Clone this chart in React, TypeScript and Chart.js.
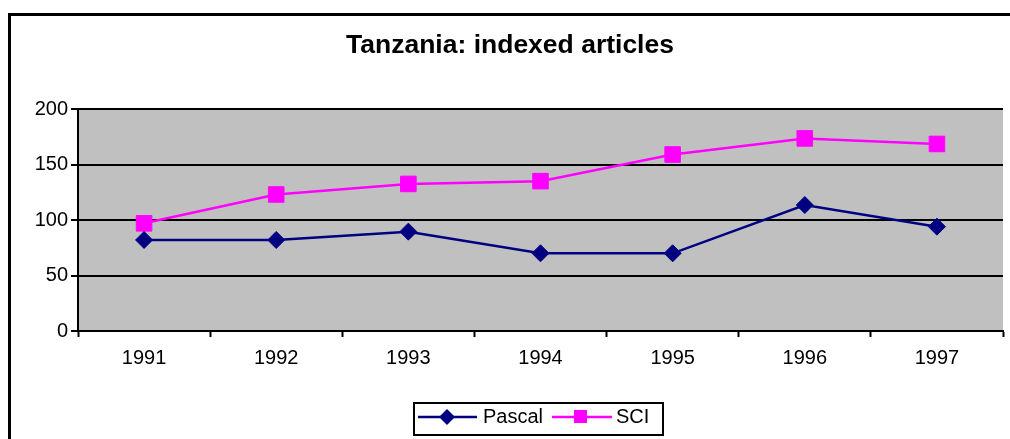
import React, { useEffect, useRef } from 'react';
import { Chart, registerables } from 'chart.js';

Chart.register(...registerables);

const years = ['1991', '1992', '1993', '1994', '1995', '1996', '1997'];
const pascal = [82, 82, 89.5, 70, 70, 113.5, 94];
const sci = [97, 123, 132.5, 135, 159, 173.5, 168.5];
const yMin = 0;
const yMax = 200;
const yStep = 50;
const titleText = 'Tanzania: indexed articles';
const seriesNames = ['Pascal', 'SCI'];

const FONT = '"Liberation Sans", Arial, Helvetica, sans-serif';
const NAVY = '#000080';
const MAGENTA = '#FF00FF';

const decorPlugin = {
  id: 'decor',
  beforeDraw(chart: any) {
    const { ctx, chartArea } = chart;
    ctx.save();
    ctx.fillStyle = '#ffffff';
    ctx.fillRect(0, 0, chart.width, chart.height);
    ctx.strokeStyle = '#000';
    ctx.lineWidth = 3;
    ctx.strokeRect(9.5, 14.5, 1100, 600);
    ctx.fillStyle = '#C0C0C0';
    ctx.fillRect(chartArea.left, chartArea.top, chartArea.right - chartArea.left, chartArea.bottom - chartArea.top);
    ctx.fillStyle = '#000';
    ctx.font = `bold 26.5px ${FONT}`;
    ctx.textAlign = 'center';
    ctx.textBaseline = 'alphabetic';
    ctx.fillText(titleText, 510, 53);
    ctx.restore();
  },
  afterDraw(chart: any) {
    const { ctx } = chart;
    ctx.save();
    ctx.strokeStyle = '#000';
    ctx.lineWidth = 2;
    ctx.strokeRect(414, 403, 249, 32);
    const cy = 417;
    ctx.font = `20px ${FONT}`;
    ctx.textBaseline = 'middle';
    ctx.textAlign = 'left';
    ctx.strokeStyle = NAVY;
    ctx.lineWidth = 2.5;
    ctx.beginPath();
    ctx.moveTo(418, cy);
    ctx.lineTo(477, cy);
    ctx.stroke();
    ctx.fillStyle = NAVY;
    ctx.beginPath();
    ctx.moveTo(447, cy - 8);
    ctx.lineTo(455, cy);
    ctx.lineTo(447, cy + 8);
    ctx.lineTo(439, cy);
    ctx.closePath();
    ctx.fill();
    ctx.fillStyle = '#000';
    ctx.fillText(seriesNames[0], 483, cy);
    ctx.strokeStyle = MAGENTA;
    ctx.beginPath();
    ctx.moveTo(552, cy);
    ctx.lineTo(612, cy);
    ctx.stroke();
    ctx.fillStyle = MAGENTA;
    ctx.fillRect(574, cy - 7, 13, 13);
    ctx.fillStyle = '#000';
    ctx.fillText(seriesNames[1], 616, cy);
    ctx.restore();
  },
};

export default function App() {
  const ref = useRef<HTMLCanvasElement | null>(null);
  useEffect(() => {
    if (!ref.current) return;
    const chart = new Chart(ref.current, {
      type: 'line',
      data: {
        labels: years,
        datasets: [
          {
            label: seriesNames[0],
            data: pascal,
            borderColor: NAVY,
            backgroundColor: NAVY,
            borderWidth: 2.5,
            pointStyle: 'rectRot',
            pointRadius: 8.5,
            pointBorderWidth: 1,
            pointBackgroundColor: NAVY,
            pointBorderColor: NAVY,
            tension: 0,
          },
          {
            label: seriesNames[1],
            data: sci,
            borderColor: MAGENTA,
            backgroundColor: MAGENTA,
            borderWidth: 2.5,
            pointStyle: 'rect',
            pointRadius: 11,
            pointBorderWidth: 1,
            pointBackgroundColor: MAGENTA,
            pointBorderColor: MAGENTA,
            tension: 0,
          },
        ],
      },
      options: {
        responsive: false,
        animation: false,
        events: [],
        layout: { autoPadding: false, padding: { left: 0, top: 109, right: 7, bottom: 68 } },
        plugins: {
          legend: { display: false },
          title: { display: false },
          tooltip: { enabled: false },
        },
        scales: {
          x: {
            offset: true,
            grid: {
              offset: true,
              drawOnChartArea: false,
              drawTicks: true,
              tickLength: 6,
              tickWidth: 2,
              tickColor: '#000',
            },
            border: { display: true, color: '#000', width: 2 },
            ticks: {
              color: '#000',
              font: { family: FONT, size: 20 },
              padding: 9,
              maxRotation: 0,
              autoSkip: false,
            },
            afterFit: (s: any) => {
              s.height = 40;
            },
          },
          y: {
            min: yMin,
            max: yMax,
            grid: {
              color: '#000',
              lineWidth: 2,
              drawTicks: true,
              tickLength: 7,
              tickWidth: 2,
              tickColor: '#000',
            },
            border: { display: true, color: '#000', width: 2 },
            ticks: {
              stepSize: yStep,
              color: '#000',
              font: { family: FONT, size: 20 },
              padding: 3,
            },
            afterFit: (s: any) => {
              s.width = 78;
            },
          },
        },
      },
      plugins: [decorPlugin],
    });
    return () => chart.destroy();
  }, []);
  return (
    <div style={{ position: 'absolute', left: 0, top: 0, width: 1010, height: 439 }}>
      <canvas ref={ref} width={1010} height={439} style={{ display: 'block' }} />
    </div>
  );
}
